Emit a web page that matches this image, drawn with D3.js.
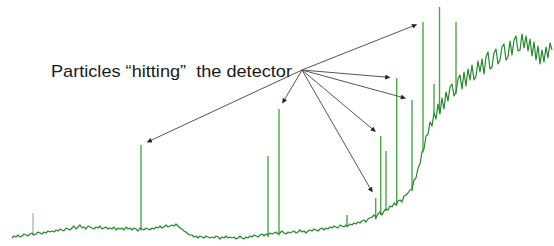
<!DOCTYPE html>
<html>
<head>
<meta charset="utf-8">
<script src="https://cdn.jsdelivr.net/npm/d3@7"></script>
<style>
  html, body { margin: 0; padding: 0; background: #fff; }
  svg { display: block; }
</style>
</head>
<body>
<div id="chart"></div>
<script>
// Detector signal, one reading per sample (arbitrary units)
const signal = [
  12,14,13,15,13,14,16,15,14,16,
  17,15,16,18,17,16,18,17,19,18,
  19,18,20,19,21,20,19,22,21,20,
  22,24,21,23,25,22,23,21,24,23,
  22,21,23,22,24,21,22,23,21,22,
  21,23,20,22,21,22,20,23,21,22,
  20,22,21,19,22,21,20,22,21,20,
  22,21,23,22,24,22,23,25,23,24,
  25,24,26,24,22,21,19,18,16,15,
  15,13,14,12,14,13,12,14,13,12,
  13,12,14,13,11,13,12,14,12,13,
  12,13,11,12,14,12,11,13,12,14,
  13,15,14,13,15,16,14,16,15,17,
  16,17,18,16,17,19,17,16,18,17,
  18,19,17,18,20,18,19,17,19,20,
  19,21,20,19,21,22,20,22,21,23,
  22,24,23,22,25,24,23,25,24,26,
  25,27,26,28,27,29,30,28,31,32,
  33,35,32,36,38,35,39,41,40,44,
  43,47,45,49,50,48,54,55,57,60,
  61,70,72,82,86,98,101,114,116,128,
  124,137,131,146,136,152,141,158,149,163,
  166,154,158,171,175,161,178,164,181,170,
  185,170,174,189,178,191,176,193,198,181,
  183,197,201,186,190,203,206,190,193,209,
  195,210,214,199,200,216,202,214,199,211,
  194,208,190,204,186,200,188,203,192,207,
  200
];

// Particle hits: sample position and peak value
const spikePos = [10.5, 64.5, 128, 133.5, 167.5, 181.85, 184.35, 187, 192.35, 200, 205.5, 211, 213.75, 222];
const spikeTop = [37, 105, 94, 141, 35, 52, 114, 99, 172, 150, 228, 166, 243, 228];

// Spikes that the annotation points to (indices into spike arrays)
const arrowTargets = [1, 3, 5, 6, 8, 9, 10];

const labelText = 'Particles \u201chitting\u201d  the detector';

const width = 554, height = 246;

const svg = d3.select('#chart').append('svg')
  .attr('width', width)
  .attr('height', height);

const x = d3.scaleLinear().domain([0, signal.length - 1]).range([12, 552]);
const y = d3.scaleLinear().domain([0, 250]).range([250, 0]);

// value of the curve at a fractional sample position
function curveAt(p) {
  const i = Math.floor(p), f = p - i;
  const a = signal[Math.min(i, signal.length - 1)];
  const b = signal[Math.min(i + 1, signal.length - 1)];
  return a + (b - a) * f;
}

// Spikes
svg.append('g')
  .selectAll('line')
  .data(spikePos.map((p, i) => ({ p, top: spikeTop[i] })))
  .join('line')
  .attr('x1', d => x(d.p))
  .attr('x2', d => x(d.p))
  .attr('y1', d => y(curveAt(d.p) - 2))
  .attr('y2', d => y(d.top))
  .attr('stroke', (d, i) => i === 0 ? '#9cc79c' : '#4aa84a')
  .attr('stroke-width', 1.4);

// Noisy signal line
const line = d3.line()
  .x((d, i) => x(i))
  .y(d => y(d));

svg.append('path')
  .datum(signal)
  .attr('d', line)
  .attr('fill', 'none')
  .attr('stroke', '#23882a')
  .attr('stroke-width', 1.2)
  .attr('stroke-linejoin', 'round');

// Arrowhead
svg.append('defs').append('marker')
  .attr('id', 'arrow')
  .attr('viewBox', '0 0 10 10')
  .attr('refX', 9).attr('refY', 5)
  .attr('markerWidth', 6).attr('markerHeight', 5)
  .attr('markerUnits', 'userSpaceOnUse')
  .attr('orient', 'auto')
  .append('path')
  .attr('d', 'M0,0L10,5L0,10Z')
  .attr('fill', '#222');

// Annotation
const origin = [302, 70];
const gap = 7;

svg.append('g')
  .selectAll('line')
  .data(arrowTargets)
  .join('line')
  .each(function (k) {
    const tx = x(spikePos[k]), ty = y(spikeTop[k]);
    const dx = tx - origin[0], dy = ty - origin[1];
    const len = Math.hypot(dx, dy);
    d3.select(this)
      .attr('x1', origin[0]).attr('y1', origin[1])
      .attr('x2', tx - dx / len * gap)
      .attr('y2', ty - dy / len * gap);
  })
  .attr('stroke', '#555')
  .attr('stroke-width', 1)
  .attr('marker-end', 'url(#arrow)');

svg.append('text')
  .attr('x', 51)
  .attr('y', 77)
  .style('white-space', 'pre')
  .attr('font-family', '"Liberation Sans", Arial, sans-serif')
  .attr('font-size', 17)
  .attr('textLength', 241)
  .attr('lengthAdjust', 'spacingAndGlyphs')
  .attr('fill', '#1a1a1a')
  .text(labelText);
</script>
</body>
</html>
